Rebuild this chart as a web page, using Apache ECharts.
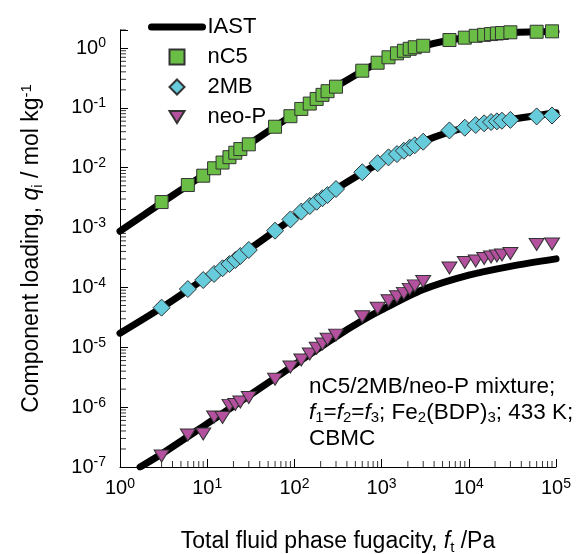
<!DOCTYPE html>
<html>
<head>
<meta charset="utf-8">
<title>nC5/2MB/neo-P mixture - IAST vs CBMC</title>
<script src="https://cdn.jsdelivr.net/npm/echarts@6/dist/echarts.min.js"></script>
<style>
  html, body { margin: 0; padding: 0; background: #fff; }
  #chart { width: 583px; height: 554px; }
</style>
</head>
<body>
<div id="chart"></div>
<script>
// CBMC points: total fluid phase fugacity (Pa) and component loadings (mol/kg)
var fugacity = [3, 6, 9, 12, 15, 18, 21, 24, 30, 60, 90, 120, 150, 180, 210, 240, 300,
  600, 900, 1200, 1500, 1800, 2100, 2400, 3000, 6000, 9000, 12000, 15000, 18000,
  21000, 24000, 30000, 60000, 90000];
var nC5 = [2.67e-3, 5.14e-3, 7.36e-3, 9.8e-3, 1.22e-2, 1.5e-2, 1.78e-2, 2.05e-2, 2.46e-2,
  4.84e-2, 7.26e-2, 9.6e-2, 0.118, 0.141, 0.165, 0.19, 0.226, 0.418, 0.568, 0.70, 0.815,
  0.90, 0.97, 1.03, 1.09, 1.36, 1.49, 1.60, 1.66, 1.71, 1.75, 1.78, 1.83, 1.87, 1.90];
var mb2 = [4.59e-5, 9.4e-5, 1.33e-4, 1.68e-4, 2.09e-4, 2.46e-4, 2.87e-4, 3.35e-4, 4.22e-4,
  8.87e-4, 1.37e-3, 1.85e-3, 2.29e-3, 2.7e-3, 3.1e-3, 3.5e-3, 4.41e-3, 8.4e-3, 1.19e-2,
  1.49e-2, 1.69e-2, 1.92e-2, 2.16e-2, 2.37e-2, 2.72e-2, 4.2e-2, 4.66e-2, 5.17e-2, 5.52e-2,
  5.8e-2, 5.95e-2, 6.1e-2, 6.3e-2, 7.2e-2, 7.45e-2];
var neoP = [1.53e-7, 3.43e-7, 3.56e-7, 6.85e-7, 6.72e-7, 1.07e-6, 1.11e-6, 1.22e-6, 1.45e-6,
  2.92e-6, 4.69e-6, 6.14e-6, 7.73e-6, 9.62e-6, 1.135e-5, 1.36e-5, 1.6e-5, 3.24e-5, 4.48e-5,
  6.0e-5, 7.0e-5, 7.97e-5, 9.3e-5, 1.06e-4, 1.26e-4, 2.11e-4, 2.61e-4, 2.77e-4, 3.04e-4,
  3.23e-4, 3.35e-4, 3.48e-4, 3.69e-4, 5.22e-4, 5.32e-4];

// IAST curves
var iastF = [1, 3, 10, 30, 100, 300, 1000, 3000, 10000, 30000, 100000];
var iastNC5 = [8.7e-4, 2.6e-3, 8.3e-3, 2.45e-2, 8.0e-2, 0.225, 0.61, 1.08, 1.53, 1.80, 1.88];
var iast2MB = [1.72e-5, 4.6e-5, 1.5e-4, 4.3e-4, 1.5e-3, 4.4e-3, 1.25e-2, 2.75e-2, 4.85e-2, 6.4e-2, 8.3e-2];
var iastNeoPF = [1.7, 3, 10, 30, 100, 300, 600, 1000, 3000, 10000, 30000, 100000];
var iastNeoP = [1.0e-7, 1.65e-7, 5.3e-7, 1.55e-6, 5.1e-6, 1.5e-5, 2.8e-5, 4.2e-5, 9.2e-5, 1.6e-4, 2.25e-4, 3.0e-4];

var xMin = 1, xMax = 1e5, yMin = 1e-7, yMax = 2;
var minorMults = [2, 3, 4, 5, 6, 7, 8, 9];

var FONT = '"Liberation Sans", Arial, sans-serif';

// marker shapes (path form so the legend keeps their aspect)
var SQUARE = 'path://M0,0L10,0L10,10L0,10Z';
var DIAMOND = 'path://M5,0L10,5L5,10L0,5Z';
var TRIANGLE = 'path://M0,1.5L15,1.5L7.5,13.5Z M0,0 M15,15';

function pairs(xs, ys) {
  return xs.map(function (x, i) { return [x, ys[i]]; });
}

// minor tick positions for the log axes
var xMinor = [];
for (var d = 0; d < 5; d++) {
  minorMults.forEach(function (m) { xMinor.push([m * Math.pow(10, d), yMin]); });
}
var yMinor = [];
for (var e = -7; e <= 0; e++) {
  minorMults.forEach(function (m) {
    var v = m * Math.pow(10, e);
    if (v <= yMax * 1.0001) yMinor.push([xMin, v]);
  });
}

function powLabel(v) {
  var l = Math.log10(v);
  var r = Math.round(l);
  if (Math.abs(l - r) > 1e-6) return '';
  return '{b|10}{s|' + r + '}';
}

var labelRich = {
  b: { fontSize: 20, lineHeight: 23, fontFamily: FONT, color: '#000' },
  s: { fontSize: 14, lineHeight: 14, fontFamily: FONT, color: '#000', verticalAlign: 'top' }
};

function nameRich(size) {
  return {
    n: { fontSize: size, lineHeight: 26, fontFamily: FONT, color: '#000' },
    i: { fontSize: size, lineHeight: 26, fontFamily: FONT, color: '#000', fontStyle: 'italic' },
    sub: { fontSize: 15, lineHeight: 16, fontFamily: FONT, color: '#000', verticalAlign: 'bottom' },
    sup: { fontSize: 15, lineHeight: 16, fontFamily: FONT, color: '#000', verticalAlign: 'top' }
  };
}

var chart = echarts.init(document.getElementById('chart'));

function markerStyle(c) {
  return { color: c, borderColor: '#333', borderWidth: 1, opacity: 1 };
}

var tickStyle = { color: '#000', width: 1 };

var option = {
  backgroundColor: '#fff',
  animation: false,
  grid: { left: 120, right: 27, top: 30, bottom: 87, outerBoundsMode: 'none' },
  legend: {
    orient: 'vertical',
    left: 143,
    top: 11,
    itemWidth: 51,
    itemHeight: 15,
    itemGap: 8,
    symbolKeepAspect: true,
    data: [
      { name: 'IAST', itemStyle: { opacity: 0 } },
      { name: 'nC5', icon: SQUARE },
      { name: '2MB', icon: DIAMOND },
      { name: 'neo-P', icon: TRIANGLE }
    ],
    lineStyle: { width: 7, cap: 'round' },
    textStyle: { fontSize: 22, lineHeight: 22, fontFamily: FONT, color: '#000' },
    selectedMode: false
  },
  xAxis: {
    type: 'log',
    logBase: 10,
    min: xMin,
    max: xMax,
    splitNumber: 5,
    axisLine: { show: true, lineStyle: { color: '#000', width: 1 } },
    axisTick: { show: true, inside: true, length: 8, lineStyle: tickStyle },
    splitLine: { show: false },
    axisLabel: {
      formatter: powLabel, margin: 10, showMinLabel: true, showMaxLabel: true,
      color: '#000', rich: labelRich
    },
    name: '{n|Total fluid phase fugacity, }{i|f}{sub|t}{n| /Pa}',
    nameLocation: 'middle',
    nameGap: 62,
    nameTextStyle: { rich: nameRich(23) }
  },
  yAxis: {
    type: 'log',
    logBase: 10,
    min: yMin,
    max: yMax,
    splitNumber: 7,
    axisLine: { show: true, lineStyle: { color: '#000', width: 1 } },
    axisTick: { show: true, inside: true, length: 8, lineStyle: tickStyle },
    splitLine: { show: false },
    axisLabel: {
      formatter: powLabel, margin: 14, showMinLabel: true, showMaxLabel: true,
      color: '#000', rich: labelRich
    },
    name: '{n|Component loading, }{i|q}{sub|i}{n| / mol kg}{sup|-1}',
    nameLocation: 'middle',
    nameRotate: 90,
    nameGap: 75,
    nameTextStyle: { rich: nameRich(23) }
  },
  graphic: [{
    type: 'text',
    left: 309,
    top: 375,
    style: {
      text: '{n|nC5/2MB/neo-P mixture;}\n' +
        '{i|f}{sub|1}{n|=}{i|f}{sub|2}{n|=}{i|f}{sub|3}{n|; Fe}{sub|2}{n|(BDP)}{sub|3}{n|; 433 K;}\n' +
        '{n|CBMC}',
      rich: nameRich(22.5)
    }
  }],
  series: [
    {
      type: 'scatter', name: 'xminor', clip: false,
      data: xMinor, symbol: 'rect', symbolSize: [1, 6], symbolOffset: [0, -3],
      itemStyle: { color: '#000' }
    },
    {
      type: 'scatter', name: 'yminor', clip: false,
      data: yMinor, symbol: 'rect', symbolSize: [6, 1], symbolOffset: [3, 0],
      itemStyle: { color: '#000' }
    },
    {
      type: 'line', name: 'IAST', data: pairs(iastF, iastNC5), smooth: 0.3,
      symbol: 'none', color: '#000', z: 2,
      lineStyle: { color: '#000', width: 7, cap: 'round', join: 'round' }
    },
    {
      type: 'line', name: 'IAST', data: pairs(iastF, iast2MB), smooth: 0.3,
      symbol: 'none', color: '#000', z: 2,
      lineStyle: { color: '#000', width: 7, cap: 'round', join: 'round' }
    },
    {
      type: 'line', name: 'IAST', data: pairs(iastNeoPF, iastNeoP), smooth: 0.3,
      symbol: 'none', color: '#000', z: 2,
      lineStyle: { color: '#000', width: 7, cap: 'round', join: 'round' }
    },
    {
      type: 'scatter', name: 'nC5', data: pairs(fugacity, nC5), z: 3,
      symbol: SQUARE, symbolSize: 13, itemStyle: markerStyle('#6abd45')
    },
    {
      type: 'scatter', name: '2MB', data: pairs(fugacity, mb2), z: 3,
      symbol: DIAMOND, symbolSize: 17, itemStyle: markerStyle('#66cbdb')
    },
    {
      type: 'scatter', name: 'neo-P', data: pairs(fugacity, neoP), z: 3,
      symbol: 'path://M0,0L15,0L7.5,12Z', symbolSize: [15, 12],
      itemStyle: markerStyle('#b3519f')
    }
  ]
};

chart.setOption(option);
</script>
</body>
</html>
